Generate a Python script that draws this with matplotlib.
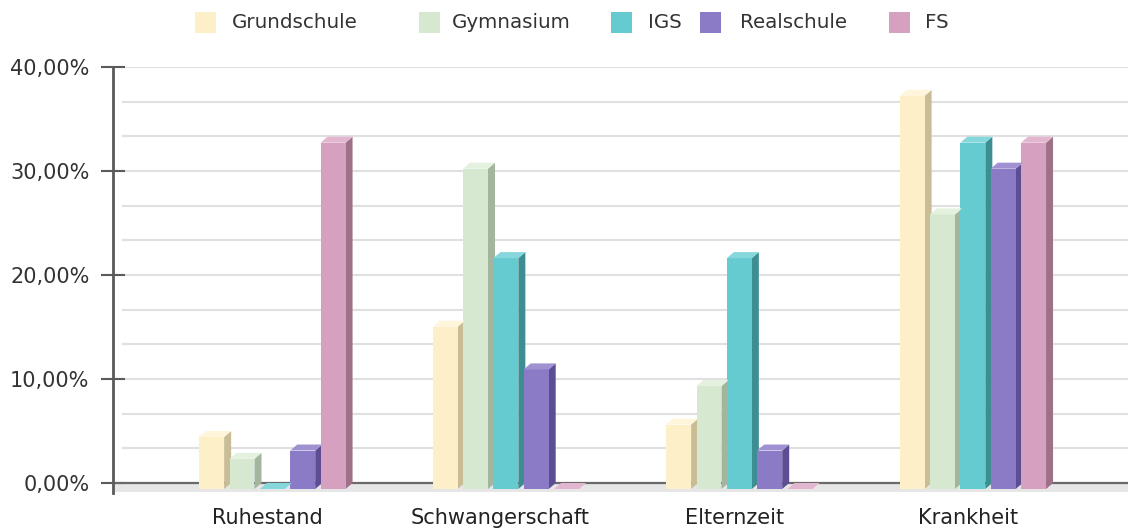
import matplotlib
matplotlib.use("Agg")
import matplotlib.pyplot as plt
from matplotlib.patches import Rectangle, Polygon
from matplotlib.ticker import FuncFormatter

# --- data -----------------------------------------------------------------
categories = ["Ruhestand", "Schwangerschaft", "Elternzeit", "Krankheit"]
schools = ["Grundschule", "Gymnasium", "IGS", "Realschule", "FS"]

grundschule = [5.0, 15.6, 6.2, 37.8]
gymnasium = [2.9, 30.8, 9.9, 26.4]
igs = [0.0, 22.2, 22.2, 33.3]
realschule = [3.7, 11.5, 3.7, 30.8]
fs = [33.3, 0.0, 0.0, 33.3]

series = [grundschule, gymnasium, igs, realschule, fs]

y_ticks = [0, 10, 20, 30, 40]

# front / side / top shades for each school
front_colors = ["#FDF0C9", "#D6E9D0", "#66CBD1", "#8B7BC6", "#D6A0C0"]
side_colors = ["#C9BD95", "#A3B59D", "#3D8E92", "#5D4E94", "#9E7189"]
top_colors = ["#FEF5DA", "#E4F1DF", "#86D7DC", "#A092D2", "#E2B6CF"]

# --- figure ---------------------------------------------------------------
W, H = 1128, 528
fig = plt.figure(figsize=(W / 100, H / 100), dpi=100)
plt.rcParams["font.family"] = ["DejaVu Sans"]

ax_left, ax_right = 113, 1128
ax_top, ax_bottom = 67, 493.4
ax = fig.add_axes([ax_left / W, 1 - ax_bottom / H,
                   (ax_right - ax_left) / W, (ax_bottom - ax_top) / H])

xmin, xmax = -0.66, 3.687
ymin, ymax = -1.0, 40.0
ax.set_xlim(xmin, xmax)
ax.set_ylim(ymin, ymax)

# pixel -> data conversion for the depth of the pseudo-3D bars
px_x = (xmax - xmin) / (ax_right - ax_left)
px_y = (ymax - ymin) / (ax_bottom - ax_top)
depth_x = 7 * px_x
depth_y = 6 * px_y

# gridlines on the back wall (every 10/3 %)
grid_step = 10 / 3
k = 1
while k * grid_step <= ymax + 1e-6:
    ax.axhline(k * grid_step, xmin=10 / (ax_right - ax_left), xmax=1,
               color="#e0e0e0", lw=1.5, zorder=1)
    k += 1

# floor
ax.axhspan(-depth_y * 1.5, 0, color="#e6e6e6", lw=0, zorder=1)
ax.axhline(0, color="#6a6a6a", lw=1.6, zorder=2)

# bars
pitch = 0.13
bar_w = 0.107
start = -0.291
for i, vals in enumerate(series):
    for c, v in enumerate(vals):
        x0 = c + start + pitch * i
        x1 = x0 + bar_w
        yb = -depth_y
        yt = v - depth_y
        zo = 3 + c * 0.01
        if v > 0:
            ax.add_patch(Rectangle((x0, yb), bar_w, v, facecolor=front_colors[i],
                                   edgecolor="none", zorder=zo + 0.002))
            ax.add_patch(Polygon([(x1, yb), (x1 + depth_x, 0), (x1 + depth_x, v), (x1, yt)],
                                 closed=True, facecolor=side_colors[i],
                                 edgecolor="none", zorder=zo + 0.001))
        ax.add_patch(Polygon([(x0, yt), (x1, yt), (x1 + depth_x, v), (x0 + depth_x, v)],
                             closed=True, facecolor=top_colors[i],
                             edgecolor="none", zorder=zo + 0.003))

# axes styling
for s in ["top", "right", "bottom"]:
    ax.spines[s].set_visible(False)
ax.spines["left"].set_color("#5a5a5a")
ax.spines["left"].set_linewidth(2)

ax.set_yticks(y_ticks)
ax.yaxis.set_major_formatter(FuncFormatter(lambda v, p: f"{v:.2f}".replace(".", ",") + "%"))
ax.tick_params(axis="y", direction="inout", length=17, width=1.5, color="#5a5a5a",
               pad=8.5, labelsize=15, labelcolor="#333333")

ax.set_xticks(range(len(categories)))
ax.set_xticklabels(categories)
ax.tick_params(axis="x", length=0, pad=10.5, labelsize=15, labelcolor="#222222")

# legend across the top
swatch_x = [195, 419, 611, 700, 889]
text_x = [232, 452, 648, 740, 925]
for i, name in enumerate(schools):
    fig.add_artist(Rectangle((swatch_x[i] / W, 1 - 33 / H), 21 / W, 21 / H,
                             transform=fig.transFigure, facecolor=front_colors[i],
                             edgecolor="none"))
    fig.text(text_x[i] / W, 1 - 22 / H, name, ha="left", va="center",
             fontsize=14.3, color="#333333")

fig.savefig("out.png", dpi=100, facecolor="white")
